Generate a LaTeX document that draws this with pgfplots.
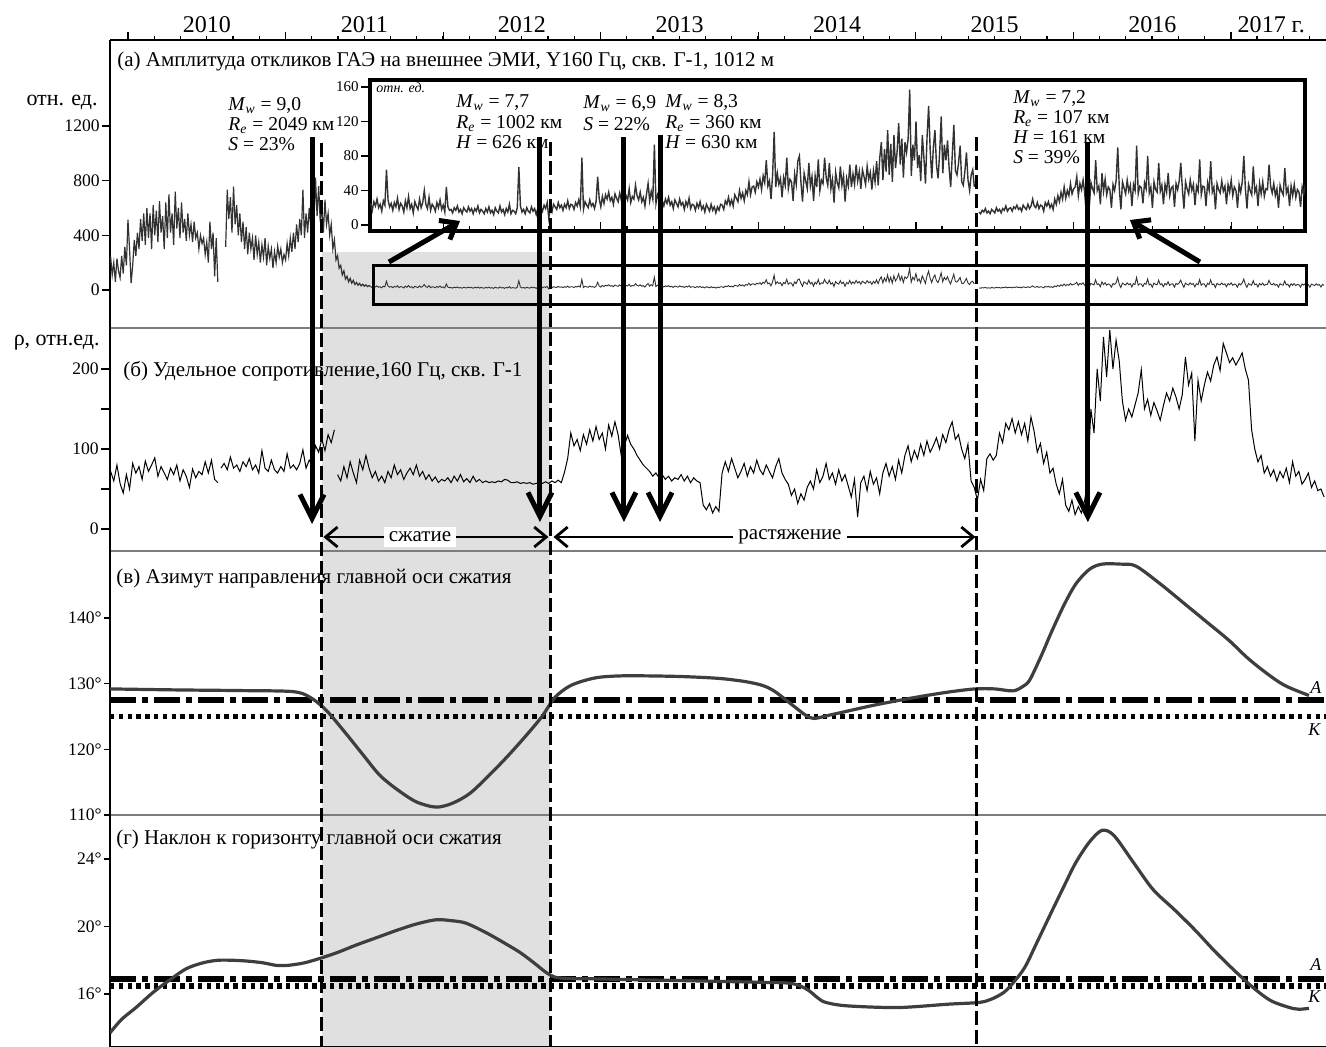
\documentclass[border=0pt]{standalone}
\usepackage{pgfplots}
\pgfplotsset{compat=1.18}
\usepackage{pgfplotstable}
\usepackage{fontspec}
\setmainfont{Liberation Serif}
\usetikzlibrary{arrows.meta}
\definecolor{shadec}{RGB}{224,224,224}
\definecolor{curve}{RGB}{62,62,62}
\definecolor{sepc}{RGB}{125,125,125}
\definecolor{datc}{RGB}{50,50,50}

% (a) amplitude, early part (rel. units)
\pgfplotstableread[row sep=\\]{
x y\\
2009.89 242\\ 2009.90 110\\ 2009.91 200\\ 2009.92 60\\ 2009.93 230\\ 2009.94 140\\ 2009.95 90\\ 2009.96 250\\ 2009.97 120\\ 2009.98 316\\
2009.99 180\\ 2010.00 514\\ 2010.01 300\\ 2010.02 50\\ 2010.03 180\\ 2010.04 367\\ 2010.05 250\\ 2010.06 420\\ 2010.07 300\\ 2010.08 520\\
2010.09 360\\ 2010.10 560\\ 2010.11 330\\ 2010.12 600\\ 2010.13 380\\ 2010.14 560\\ 2010.15 300\\ 2010.16 620\\ 2010.17 400\\ 2010.18 580\\
2010.19 350\\ 2010.20 650\\ 2010.21 420\\ 2010.22 540\\ 2010.23 300\\ 2010.24 640\\ 2010.25 380\\ 2010.26 700\\ 2010.27 420\\ 2010.28 560\\
2010.29 330\\ 2010.30 720\\ 2010.31 450\\ 2010.32 600\\ 2010.33 380\\ 2010.34 640\\ 2010.35 420\\ 2010.36 520\\ 2010.37 360\\ 2010.38 560\\
2010.39 400\\ 2010.40 480\\ 2010.41 350\\ 2010.42 500\\ 2010.43 380\\ 2010.44 420\\ 2010.45 300\\ 2010.46 400\\ 2010.47 340\\ 2010.48 380\\
2010.49 260\\ 2010.50 350\\ 2010.51 200\\ 2010.52 500\\ 2010.53 300\\ 2010.54 420\\ 2010.55 100\\ 2010.56 380\\ 2010.57 60\\ 2010.58 nan\\
2010.62 316\\ 2010.63 734\\ 2010.64 520\\ 2010.65 680\\ 2010.66 420\\ 2010.67 756\\ 2010.68 480\\ 2010.69 620\\ 2010.70 400\\ 2010.71 560\\
2010.72 350\\ 2010.73 500\\ 2010.74 300\\ 2010.75 460\\ 2010.76 260\\ 2010.77 420\\ 2010.78 300\\ 2010.79 380\\ 2010.80 220\\ 2010.81 400\\
2010.82 260\\ 2010.83 350\\ 2010.84 200\\ 2010.85 330\\ 2010.86 240\\ 2010.87 380\\ 2010.88 180\\ 2010.89 320\\ 2010.90 230\\ 2010.91 300\\
2010.92 160\\ 2010.93 280\\ 2010.94 200\\ 2010.95 320\\ 2010.96 240\\ 2010.97 300\\ 2010.98 200\\ 2010.99 260\\ 2011.00 220\\ 2011.01 340\\
2011.02 250\\ 2011.03 380\\ 2011.04 280\\ 2011.05 420\\ 2011.06 300\\ 2011.07 480\\ 2011.08 350\\ 2011.09 520\\ 2011.10 400\\ 2011.11 734\\
2011.12 380\\ 2011.13 560\\ 2011.14 420\\ 2011.15 600\\ 2011.16 460\\ 2011.17 700\\ 2011.18 500\\ 2011.19 822\\ 2011.20 540\\ 2011.21 760\\
2011.22 500\\ 2011.23 600\\ 2011.24 420\\ 2011.25 660\\ 2011.26 480\\ 2011.27 560\\ 2011.28 400\\ 2011.29 480\\ 2011.30 300\\ 2011.31 367\\
2011.32 220\\ 2011.33 250\\ 2011.34 160\\ 2011.35 180\\ 2011.36 110\\ 2011.37 140\\ 2011.38 80\\ 2011.39 100\\ 2011.40 60\\ 2011.41 85\\
2011.42 50\\ 2011.43 70\\ 2011.44 40\\ 2011.45 55\\ 2011.46 35\\ 2011.47 48\\ 2011.48 30\\ 2011.49 42\\ 2011.50 28\\ 2011.51 38\\
2011.52 25\\ 2011.53 32\\ 2011.54 25\\
}\ampA

% (a) amplitude, later part (shown in the inset)
\pgfplotstableread[row sep=\\]{
x y\\
2011.54 25\\ 2011.55 17\\ 2011.56 27\\ 2011.57 22\\ 2011.58 30\\ 2011.59 20\\ 2011.60 24\\ 2011.61 16\\ 2011.62 28\\ 2011.63 23\\
2011.64 64\\ 2011.65 29\\ 2011.66 21\\ 2011.67 25\\ 2011.68 17\\ 2011.69 26\\ 2011.70 21\\ 2011.71 31\\ 2011.72 18\\ 2011.73 25\\
2011.74 22\\ 2011.75 15\\ 2011.76 28\\ 2011.77 20\\ 2011.78 33\\ 2011.79 19\\ 2011.80 24\\ 2011.81 14\\ 2011.82 27\\ 2011.83 22\\
2011.84 18\\ 2011.85 30\\ 2011.86 20\\ 2011.87 26\\ 2011.88 40\\ 2011.89 24\\ 2011.90 19\\ 2011.91 32\\ 2011.92 17\\ 2011.93 24\\
2011.94 21\\ 2011.95 16\\ 2011.96 26\\ 2011.97 20\\ 2011.98 29\\ 2011.99 18\\ 2012.00 23\\ 2012.01 15\\ 2012.02 44\\ 2012.03 21\\
2012.04 17\\ 2012.05 18\\ 2012.06 14\\ 2012.07 20\\ 2012.08 17\\ 2012.09 22\\ 2012.10 15\\ 2012.11 18\\ 2012.12 13\\ 2012.13 20\\
2012.14 17\\ 2012.15 15\\ 2012.16 21\\ 2012.17 16\\ 2012.18 19\\ 2012.19 13\\ 2012.20 19\\ 2012.21 16\\ 2012.22 22\\ 2012.23 14\\
2012.24 18\\ 2012.25 16\\ 2012.26 13\\ 2012.27 19\\ 2012.28 15\\ 2012.29 21\\ 2012.30 14\\ 2012.31 17\\ 2012.32 12\\ 2012.33 20\\
2012.34 16\\ 2012.35 14\\ 2012.36 22\\ 2012.37 15\\ 2012.38 18\\ 2012.39 12\\ 2012.40 19\\ 2012.41 15\\ 2012.42 24\\ 2012.43 13\\
2012.44 17\\ 2012.45 16\\ 2012.46 13\\ 2012.47 20\\ 2012.48 67\\ 2012.49 22\\ 2012.50 15\\ 2012.51 18\\ 2012.52 13\\ 2012.53 20\\
2012.54 16\\ 2012.55 14\\ 2012.56 21\\ 2012.57 16\\ 2012.58 19\\ 2012.59 12\\ 2012.60 19\\ 2012.61 16\\ 2012.62 21\\ 2012.63 16\\
2012.64 23\\ 2012.65 19\\ 2012.66 26\\ 2012.67 8\\ 2012.68 21\\ 2012.69 15\\ 2012.70 24\\ 2012.71 21\\ 2012.72 18\\ 2012.73 26\\
2012.74 20\\ 2012.75 23\\ 2012.76 17\\ 2012.77 24\\ 2012.78 20\\ 2012.79 28\\ 2012.80 19\\ 2012.81 24\\ 2012.82 23\\ 2012.83 18\\
2012.84 26\\ 2012.85 22\\ 2012.86 29\\ 2012.87 21\\ 2012.88 78\\ 2012.89 18\\ 2012.90 27\\ 2012.91 23\\ 2012.92 20\\ 2012.93 29\\
2012.94 22\\ 2012.95 25\\ 2012.96 19\\ 2012.97 27\\ 2012.98 56\\ 2012.99 30\\ 2013.00 21\\ 2013.01 33\\ 2013.02 25\\ 2013.03 35\\
2013.04 30\\ 2013.05 38\\ 2013.06 28\\ 2013.07 32\\ 2013.08 24\\ 2013.09 36\\ 2013.10 31\\ 2013.11 27\\ 2013.12 37\\ 2013.13 29\\
2013.14 33\\ 2013.15 25\\ 2013.16 34\\ 2013.17 29\\ 2013.18 42\\ 2013.19 26\\ 2013.20 33\\ 2013.21 30\\ 2013.22 46\\ 2013.23 34\\
2013.24 29\\ 2013.25 38\\ 2013.26 27\\ 2013.27 32\\ 2013.28 22\\ 2013.29 36\\ 2013.30 48\\ 2013.31 28\\ 2013.32 39\\ 2013.33 30\\
2013.34 93\\ 2013.35 25\\ 2013.36 35\\ 2013.37 29\\ 2013.38 44\\ 2013.39 28\\ 2013.40 22\\ 2013.41 30\\ 2013.42 25\\ 2013.43 32\\
2013.44 23\\ 2013.45 27\\ 2013.46 19\\ 2013.47 29\\ 2013.48 25\\ 2013.49 21\\ 2013.50 30\\ 2013.51 23\\ 2013.52 26\\ 2013.53 18\\
2013.54 27\\ 2013.55 22\\ 2013.56 31\\ 2013.57 19\\ 2013.58 24\\ 2013.59 23\\ 2013.60 17\\ 2013.61 25\\ 2013.62 20\\ 2013.63 27\\
2013.64 18\\ 2013.65 22\\ 2013.66 15\\ 2013.67 24\\ 2013.68 20\\ 2013.69 16\\ 2013.70 24\\ 2013.71 17\\ 2013.72 21\\ 2013.73 14\\
2013.74 21\\ 2013.75 17\\ 2013.76 24\\ 2013.77 23\\ 2013.78 18\\ 2013.79 28\\ 2013.80 24\\ 2013.81 32\\ 2013.82 23\\ 2013.83 29\\
2013.84 22\\ 2013.85 35\\ 2013.86 31\\ 2013.87 27\\ 2013.88 40\\ 2013.89 31\\ 2013.90 37\\ 2013.91 28\\ 2013.92 40\\ 2013.93 35\\
2013.94 50\\ 2013.95 35\\ 2013.96 44\\ 2013.97 45\\ 2013.98 38\\ 2013.99 50\\ 2014.00 44\\ 2014.01 53\\ 2014.02 41\\ 2014.03 57\\
2014.04 49\\ 2014.05 75\\ 2014.06 45\\ 2014.07 51\\ 2014.08 30\\ 2014.09 58\\ 2014.10 108\\ 2014.11 44\\ 2014.12 60\\ 2014.13 47\\
2014.14 54\\ 2014.15 32\\ 2014.16 55\\ 2014.17 46\\ 2014.18 78\\ 2014.19 42\\ 2014.20 53\\ 2014.21 50\\ 2014.22 28\\ 2014.23 59\\
2014.24 47\\ 2014.25 74\\ 2014.26 80\\ 2014.27 49\\ 2014.28 27\\ 2014.29 60\\ 2014.30 51\\ 2014.31 42\\ 2014.32 72\\ 2014.33 45\\
2014.34 56\\ 2014.35 28\\ 2014.36 57\\ 2014.37 44\\ 2014.38 76\\ 2014.39 40\\ 2014.40 52\\ 2014.41 48\\ 2014.42 78\\ 2014.43 55\\
2014.44 46\\ 2014.45 72\\ 2014.46 42\\ 2014.47 53\\ 2014.48 26\\ 2014.49 61\\ 2014.50 49\\ 2014.51 43\\ 2014.52 68\\ 2014.53 46\\
2014.54 57\\ 2014.55 27\\ 2014.56 54\\ 2014.57 45\\ 2014.58 70\\ 2014.59 44\\ 2014.60 59\\ 2014.61 47\\ 2014.62 70\\ 2014.63 51\\
2014.64 62\\ 2014.65 42\\ 2014.66 64\\ 2014.67 56\\ 2014.68 47\\ 2014.69 68\\ 2014.70 53\\ 2014.71 61\\ 2014.72 41\\ 2014.73 63\\
2014.74 50\\ 2014.75 74\\ 2014.76 46\\ 2014.77 78\\ 2014.78 96\\ 2014.79 52\\ 2014.80 88\\ 2014.81 62\\ 2014.82 110\\ 2014.83 58\\
2014.84 94\\ 2014.85 50\\ 2014.86 104\\ 2014.87 66\\ 2014.88 85\\ 2014.89 118\\ 2014.90 70\\ 2014.91 100\\ 2014.92 55\\ 2014.93 96\\
2014.94 84\\ 2014.95 100\\ 2014.96 157\\ 2014.97 57\\ 2014.98 93\\ 2014.99 75\\ 2015.00 120\\ 2015.01 66\\ 2015.02 81\\ 2015.03 51\\
2015.04 104\\ 2015.05 78\\ 2015.06 48\\ 2015.07 102\\ 2015.08 138\\ 2015.09 87\\ 2015.10 54\\ 2015.11 90\\ 2015.12 110\\ 2015.13 69\\
2015.14 54\\ 2015.15 84\\ 2015.16 126\\ 2015.17 60\\ 2015.18 93\\ 2015.19 75\\ 2015.20 98\\ 2015.21 66\\ 2015.22 44\\ 2015.23 81\\
2015.24 116\\ 2015.25 63\\ 2015.26 58\\ 2015.27 72\\ 2015.28 92\\ 2015.29 50\\ 2015.30 46\\ 2015.31 62\\ 2015.32 84\\ 2015.33 52\\
2015.34 40\\ 2015.35 58\\ 2015.36 64\\ 2015.37 44\\ 2015.38 nan\\ 2015.40 15\\ 2015.41 13\\ 2015.42 17\\ 2015.43 15\\ 2015.44 19\\
2015.45 14\\ 2015.46 16\\ 2015.47 13\\ 2015.48 18\\ 2015.49 16\\ 2015.50 14\\ 2015.51 20\\ 2015.52 16\\ 2015.53 18\\ 2015.54 14\\
2015.55 19\\ 2015.56 17\\ 2015.57 22\\ 2015.58 16\\ 2015.59 19\\ 2015.60 20\\ 2015.61 16\\ 2015.62 21\\ 2015.63 19\\ 2015.64 23\\
2015.65 18\\ 2015.66 20\\ 2015.67 16\\ 2015.68 23\\ 2015.69 20\\ 2015.70 18\\ 2015.71 24\\ 2015.72 19\\ 2015.73 22\\ 2015.74 30\\
2015.75 22\\ 2015.76 20\\ 2015.77 26\\ 2015.78 19\\ 2015.79 23\\ 2015.80 22\\ 2015.81 16\\ 2015.82 26\\ 2015.83 22\\ 2015.84 27\\
2015.85 20\\ 2015.86 24\\ 2015.87 18\\ 2015.88 30\\ 2015.89 24\\ 2015.90 34\\ 2015.91 27\\ 2015.92 38\\ 2015.93 30\\ 2015.94 44\\
2015.95 31\\ 2015.96 40\\ 2015.97 34\\ 2015.98 48\\ 2015.99 36\\ 2016.00 42\\ 2016.01 44\\ 2016.02 56\\ 2016.03 34\\ 2016.04 48\\
2016.05 41\\ 2016.06 52\\ 2016.07 38\\ 2016.08 14\\ 2016.09 43\\ 2016.10 22\\ 2016.11 49\\ 2016.12 42\\ 2016.13 37\\ 2016.14 75\\
2016.15 40\\ 2016.16 45\\ 2016.17 24\\ 2016.18 60\\ 2016.19 39\\ 2016.20 53\\ 2016.21 35\\ 2016.22 44\\ 2016.23 41\\ 2016.24 20\\
2016.25 47\\ 2016.26 40\\ 2016.27 52\\ 2016.28 90\\ 2016.29 42\\ 2016.30 18\\ 2016.31 50\\ 2016.32 43\\ 2016.33 36\\ 2016.34 52\\
2016.35 39\\ 2016.36 46\\ 2016.37 22\\ 2016.38 47\\ 2016.39 40\\ 2016.40 92\\ 2016.41 36\\ 2016.42 45\\ 2016.43 43\\ 2016.44 25\\
2016.45 49\\ 2016.46 42\\ 2016.47 80\\ 2016.48 37\\ 2016.49 44\\ 2016.50 20\\ 2016.51 50\\ 2016.52 41\\ 2016.53 38\\ 2016.54 72\\
2016.55 39\\ 2016.56 46\\ 2016.57 24\\ 2016.58 47\\ 2016.59 38\\ 2016.60 60\\ 2016.61 34\\ 2016.62 43\\ 2016.63 45\\ 2016.64 21\\
2016.65 48\\ 2016.66 41\\ 2016.67 51\\ 2016.68 72\\ 2016.69 42\\ 2016.70 19\\ 2016.71 50\\ 2016.72 42\\ 2016.73 36\\ 2016.74 52\\
2016.75 40\\ 2016.76 47\\ 2016.77 23\\ 2016.78 45\\ 2016.79 39\\ 2016.80 76\\ 2016.81 35\\ 2016.82 45\\ 2016.83 44\\ 2016.84 22\\
2016.85 49\\ 2016.86 40\\ 2016.87 74\\ 2016.88 38\\ 2016.89 44\\ 2016.90 18\\ 2016.91 48\\ 2016.92 41\\ 2016.93 37\\ 2016.94 51\\
2016.95 39\\ 2016.96 45\\ 2016.97 24\\ 2016.98 47\\ 2016.99 38\\ 2017.00 52\\ 2017.01 34\\ 2017.02 44\\ 2017.03 40\\ 2017.04 20\\
2017.05 47\\ 2017.06 38\\ 2017.07 50\\ 2017.08 80\\ 2017.09 42\\ 2017.10 19\\ 2017.11 47\\ 2017.12 40\\ 2017.13 35\\ 2017.14 68\\
2017.15 38\\ 2017.16 44\\ 2017.17 22\\ 2017.18 48\\ 2017.19 36\\ 2017.20 50\\ 2017.21 33\\ 2017.22 42\\ 2017.23 41\\ 2017.24 70\\
2017.25 45\\ 2017.26 37\\ 2017.27 48\\ 2017.28 34\\ 2017.29 42\\ 2017.30 20\\ 2017.31 46\\ 2017.32 39\\ 2017.33 35\\ 2017.34 66\\
2017.35 37\\ 2017.36 43\\ 2017.37 22\\ 2017.38 45\\ 2017.39 34\\ 2017.40 47\\ 2017.41 32\\ 2017.42 41\\ 2017.43 38\\ 2017.44 21\\
2017.45 44\\ 2017.46 36\\ 2017.47 46\\ 2017.48 33\\ 2017.49 40\\ 2017.50 20\\ 2017.51 43\\ 2017.52 37\\ 2017.53 33\\ 2017.54 45\\
2017.55 35\\ 2017.56 40\\ 2017.57 22\\ 2017.58 41\\ 2017.59 34\\
}\ampB

% (b) resistivity
\pgfplotstableread[row sep=\\]{
x y\\
2009.89 72\\ 2009.91 60\\ 2009.93 80\\ 2009.95 57\\ 2009.97 45\\ 2009.99 68\\ 2010.01 50\\ 2010.03 82\\ 2010.05 70\\ 2010.07 78\\
2010.09 62\\ 2010.11 85\\ 2010.13 72\\ 2010.15 80\\ 2010.17 89\\ 2010.19 66\\ 2010.21 78\\ 2010.23 70\\ 2010.25 62\\ 2010.27 76\\
2010.29 68\\ 2010.31 80\\ 2010.33 60\\ 2010.35 74\\ 2010.37 66\\ 2010.39 52\\ 2010.41 75\\ 2010.43 64\\ 2010.45 72\\ 2010.47 68\\
2010.49 84\\ 2010.51 70\\ 2010.53 86\\ 2010.55 62\\ 2010.57 58\\ 2010.58 nan\\ 2010.59 76\\ 2010.61 82\\ 2010.63 74\\ 2010.65 90\\
2010.67 76\\ 2010.69 80\\ 2010.71 72\\ 2010.73 84\\ 2010.75 78\\ 2010.77 88\\ 2010.79 74\\ 2010.81 80\\ 2010.83 70\\ 2010.85 98\\
2010.87 76\\ 2010.89 72\\ 2010.91 86\\ 2010.93 74\\ 2010.95 70\\ 2010.97 78\\ 2010.99 72\\ 2011.01 94\\ 2011.03 76\\ 2011.05 80\\
2011.07 74\\ 2011.09 82\\ 2011.11 99\\ 2011.13 76\\ 2011.15 86\\ 2011.17 80\\ 2011.19 104\\ 2011.21 96\\ 2011.23 112\\ 2011.25 98\\
2011.27 118\\ 2011.29 108\\ 2011.31 124\\ 2011.32 nan\\ 2011.33 68\\ 2011.35 60\\ 2011.37 78\\ 2011.39 64\\ 2011.41 84\\ 2011.43 70\\
2011.45 58\\ 2011.47 86\\ 2011.49 74\\ 2011.51 92\\ 2011.53 76\\ 2011.55 64\\ 2011.57 72\\ 2011.59 60\\ 2011.61 66\\ 2011.63 58\\
2011.65 72\\ 2011.67 64\\ 2011.69 80\\ 2011.71 68\\ 2011.73 74\\ 2011.75 62\\ 2011.77 70\\ 2011.79 76\\ 2011.81 68\\ 2011.83 80\\
2011.85 66\\ 2011.87 72\\ 2011.89 62\\ 2011.91 68\\ 2011.93 60\\ 2011.95 65\\ 2011.97 58\\ 2011.99 62\\ 2012.01 60\\ 2012.03 64\\
2012.05 58\\ 2012.07 66\\ 2012.09 60\\ 2012.11 68\\ 2012.13 59\\ 2012.15 63\\ 2012.17 58\\ 2012.19 66\\ 2012.21 59\\ 2012.23 62\\
2012.25 58\\ 2012.27 60\\ 2012.29 58\\ 2012.31 59\\ 2012.33 58\\ 2012.35 60\\ 2012.37 59\\ 2012.39 62\\ 2012.41 61\\ 2012.43 58\\
2012.45 58\\ 2012.47 59\\ 2012.49 57\\ 2012.51 58\\ 2012.53 57\\ 2012.55 58\\ 2012.57 56\\ 2012.59 57\\ 2012.61 58\\ 2012.63 57\\
2012.65 59\\ 2012.67 57\\ 2012.69 60\\ 2012.71 58\\ 2012.73 61\\ 2012.75 58\\ 2012.77 71\\ 2012.79 88\\ 2012.81 120\\ 2012.83 104\\
2012.85 112\\ 2012.87 98\\ 2012.89 118\\ 2012.91 106\\ 2012.93 124\\ 2012.95 110\\ 2012.97 128\\ 2012.99 112\\ 2013.01 120\\ 2013.03 100\\
2013.05 130\\ 2013.07 116\\ 2013.09 134\\ 2013.11 118\\ 2013.13 92\\ 2013.15 104\\ 2013.17 117\\ 2013.19 106\\ 2013.21 100\\ 2013.23 92\\
2013.25 86\\ 2013.27 80\\ 2013.29 76\\ 2013.31 72\\ 2013.33 66\\ 2013.35 70\\ 2013.37 64\\ 2013.39 68\\ 2013.41 62\\ 2013.43 66\\
2013.45 60\\ 2013.47 64\\ 2013.49 62\\ 2013.51 68\\ 2013.53 60\\ 2013.55 66\\ 2013.57 58\\ 2013.59 64\\ 2013.61 60\\ 2013.63 58\\
2013.65 30\\ 2013.67 24\\ 2013.69 32\\ 2013.71 20\\ 2013.73 28\\ 2013.75 22\\ 2013.77 70\\ 2013.79 84\\ 2013.81 72\\ 2013.83 88\\
2013.85 76\\ 2013.87 64\\ 2013.89 72\\ 2013.91 82\\ 2013.93 66\\ 2013.95 78\\ 2013.97 70\\ 2013.99 86\\ 2014.01 74\\ 2014.03 68\\
2014.05 80\\ 2014.07 72\\ 2014.09 64\\ 2014.11 78\\ 2014.13 88\\ 2014.15 70\\ 2014.17 62\\ 2014.19 56\\ 2014.21 42\\ 2014.23 50\\
2014.25 32\\ 2014.27 44\\ 2014.29 36\\ 2014.31 52\\ 2014.33 60\\ 2014.35 50\\ 2014.37 74\\ 2014.39 58\\ 2014.41 66\\ 2014.43 82\\
2014.45 62\\ 2014.47 70\\ 2014.49 56\\ 2014.51 74\\ 2014.53 60\\ 2014.55 68\\ 2014.57 54\\ 2014.59 40\\ 2014.61 62\\ 2014.63 15\\
2014.65 58\\ 2014.67 66\\ 2014.69 48\\ 2014.71 72\\ 2014.73 56\\ 2014.75 64\\ 2014.77 44\\ 2014.79 70\\ 2014.81 82\\ 2014.83 66\\
2014.85 78\\ 2014.87 62\\ 2014.89 86\\ 2014.91 70\\ 2014.93 92\\ 2014.95 104\\ 2014.97 84\\ 2014.99 98\\ 2015.01 88\\ 2015.03 106\\
2015.05 92\\ 2015.07 110\\ 2015.09 96\\ 2015.11 104\\ 2015.13 114\\ 2015.15 100\\ 2015.17 118\\ 2015.19 108\\ 2015.21 124\\ 2015.23 134\\
2015.25 112\\ 2015.27 118\\ 2015.29 100\\ 2015.31 88\\ 2015.33 106\\ 2015.35 60\\ 2015.37 52\\ 2015.39 36\\ 2015.41 62\\ 2015.43 48\\
2015.45 88\\ 2015.47 94\\ 2015.49 86\\ 2015.51 92\\ 2015.53 120\\ 2015.55 108\\ 2015.57 132\\ 2015.59 124\\ 2015.61 138\\ 2015.63 120\\
2015.65 134\\ 2015.67 118\\ 2015.69 132\\ 2015.71 110\\ 2015.73 140\\ 2015.75 122\\ 2015.77 96\\ 2015.79 107\\ 2015.81 82\\ 2015.83 96\\
2015.85 70\\ 2015.87 76\\ 2015.89 56\\ 2015.91 44\\ 2015.93 62\\ 2015.95 30\\ 2015.97 22\\ 2015.99 36\\ 2016.01 18\\ 2016.03 28\\
2016.05 20\\ 2016.07 35\\ 2016.09 60\\ 2016.11 150\\ 2016.13 120\\ 2016.15 200\\ 2016.17 160\\ 2016.19 240\\ 2016.21 190\\ 2016.23 249\\
2016.25 200\\ 2016.27 236\\ 2016.29 210\\ 2016.31 160\\ 2016.33 136\\ 2016.35 150\\ 2016.37 140\\ 2016.39 155\\ 2016.41 170\\ 2016.43 199\\
2016.45 150\\ 2016.47 162\\ 2016.49 142\\ 2016.51 158\\ 2016.53 148\\ 2016.55 136\\ 2016.57 154\\ 2016.59 170\\ 2016.61 160\\ 2016.63 176\\
2016.65 165\\ 2016.67 150\\ 2016.69 168\\ 2016.71 215\\ 2016.73 180\\ 2016.75 195\\ 2016.77 110\\ 2016.79 186\\ 2016.81 160\\ 2016.83 180\\
2016.85 196\\ 2016.87 185\\ 2016.89 205\\ 2016.91 215\\ 2016.93 198\\ 2016.95 232\\ 2016.97 220\\ 2016.99 208\\ 2017.01 214\\ 2017.03 205\\
2017.05 212\\ 2017.07 220\\ 2017.09 200\\ 2017.11 186\\ 2017.13 124\\ 2017.15 100\\ 2017.17 84\\ 2017.19 92\\ 2017.21 70\\ 2017.23 78\\
2017.25 66\\ 2017.27 74\\ 2017.29 60\\ 2017.31 72\\ 2017.33 64\\ 2017.35 76\\ 2017.37 58\\ 2017.39 84\\ 2017.41 66\\ 2017.43 72\\
2017.45 56\\ 2017.47 62\\ 2017.49 70\\ 2017.51 52\\ 2017.53 60\\ 2017.55 48\\ 2017.57 50\\ 2017.59 40\\
}\resist

% (v) azimuth of the main compression axis, degrees
\pgfplotstableread[row sep=\\]{
x y\\
2009.886 129.2\\ 2010.3 129.05\\ 2010.7 128.95\\ 2011.041 128.8\\ 2011.15 128.0\\ 2011.256 126.0\\ 2011.38 122.5\\ 2011.497 119.0\\
2011.60 116.0\\ 2011.713 113.8\\ 2011.83 112.0\\ 2011.954 111.2\\ 2012.06 111.8\\ 2012.170 113.3\\ 2012.29 116.0\\ 2012.411 119.0\\
2012.53 122.2\\ 2012.627 125.0\\ 2012.709 127.9\\ 2012.80 129.6\\ 2012.900 130.5\\ 2013.00 131.0\\ 2013.166 131.2\\ 2013.490 131.1\\
2013.75 130.8\\ 2013.921 130.3\\ 2014.03 129.7\\ 2014.105 128.8\\ 2014.213 126.8\\ 2014.30 125.2\\ 2014.353 124.7\\ 2014.45 125.2\\
2014.562 125.8\\ 2014.75 126.8\\ 2014.994 127.9\\ 2015.20 128.7\\ 2015.374 129.2\\ 2015.50 129.2\\ 2015.616 128.9\\ 2015.68 129.6\\
2015.723 130.6\\ 2015.80 134.5\\ 2015.857 137.7\\ 2015.94 142.0\\ 2016.015 145.2\\ 2016.10 147.4\\ 2016.180 148.2\\ 2016.30 148.2\\
2016.396 147.9\\ 2016.55 145.2\\ 2016.713 142.0\\ 2016.85 139.3\\ 2016.986 136.6\\ 2017.10 134.0\\ 2017.202 132.0\\ 2017.30 130.3\\
2017.360 129.5\\ 2017.43 128.8\\ 2017.494 128.2\\
}\azim

% (g) inclination of the main compression axis, degrees
\pgfplotstableread[row sep=\\]{
x y\\
2009.886 13.7\\ 2009.96 14.5\\ 2010.051 15.2\\ 2010.16 16.1\\ 2010.260 16.8\\ 2010.37 17.5\\ 2010.476 17.85\\ 2010.57 18.0\\
2010.666 18.0\\ 2010.76 17.95\\ 2010.857 17.85\\ 2010.94 17.7\\ 2011.015 17.7\\ 2011.12 17.85\\ 2011.231 18.15\\ 2011.34 18.5\\
2011.447 18.9\\ 2011.58 19.35\\ 2011.713 19.8\\ 2011.83 20.15\\ 2011.954 20.4\\ 2012.05 20.35\\ 2012.145 20.2\\ 2012.28 19.6\\
2012.411 18.9\\ 2012.49 18.45\\ 2012.576 17.85\\ 2012.65 17.3\\ 2012.709 17.0\\ 2012.80 16.92\\ 2012.951 16.9\\ 2013.490 16.8\\
2014.00 16.7\\ 2014.188 16.65\\ 2014.26 16.5\\ 2014.321 16.2\\ 2014.38 15.75\\ 2014.429 15.5\\ 2014.562 15.3\\ 2014.886 15.2\\
2015.209 15.4\\ 2015.400 15.5\\ 2015.48 15.7\\ 2015.558 16.1\\ 2015.62 16.7\\ 2015.692 17.6\\ 2015.77 19.1\\ 2015.857 20.8\\
2015.94 22.4\\ 2016.015 23.8\\ 2016.10 25.0\\ 2016.180 25.7\\ 2016.256 25.4\\ 2016.38 23.8\\ 2016.504 22.2\\ 2016.64 21.0\\
2016.770 19.8\\ 2016.90 18.5\\ 2017.037 17.25\\ 2017.15 16.3\\ 2017.253 15.6\\ 2017.37 15.2\\ 2017.43 15.1\\ 2017.494 15.15\\
}\incl

\pgfplotsset{
  panel/.style={scale only axis, width=608pt, xmin=2009.886, xmax=2017.602, anchor=north west,
    axis y line*=left, axis line style={black, line width=1pt},
    tick align=outside, major tick length=4.5pt, tick style={black, line width=0.6pt},
    yticklabel style={font=\fontsize{8.8}{10}\selectfont, inner sep=1pt},
    /pgf/number format/assume math mode=true, /pgf/number format/1000 sep={}, unbounded coords=jump},
  ovl/.style={scale only axis, width=608pt, height=503.5pt, at={(55pt,-20pt)}, anchor=north west,
    xmin=2009.886, xmax=2017.602, ymin=40, ymax=1047, y dir=reverse, hide axis, clip=false}
}
\tikzset{
  evarrow/.style={line width=2.5pt, -{Straight Barb[length=12pt,width=12pt]}},
  dline/.style={line width=1.5pt, dash pattern=on 7pt off 2.5pt},
  harrow/.style={line width=1.4pt, {Straight Barb[length=6pt,width=10pt]}-{Straight Barb[length=6pt,width=10pt]}},
  iarrow/.style={line width=2.5pt, -{Straight Barb[length=7pt,width=11pt]}},
  ttl/.style={anchor=base west, inner sep=0pt, font=\fontsize{10.5}{12}\selectfont},
  ev/.style={anchor=base west, inner sep=0pt, font=\fontsize{9.8}{12}\selectfont},
  ak/.style={anchor=base west, inner sep=0pt, font=\fontsize{9}{10}\selectfont\itshape}
}
\newcommand{\Mw}{\textit{M}\textsubscript{\textit{w}}}
\newcommand{\Rep}{\textit{R}\textsubscript{\textit{e}}}

\begin{document}
\begin{tikzpicture}
\path[use as bounding box] (0,0) rectangle (663pt,-523.5pt);

% background: shading and panel separators
\begin{axis}[ovl]
\fill[shadec] (axis cs:2011.231,252) rectangle (axis cs:2012.678,1047);
\draw[sepc, line width=0.9pt] (axis cs:2009.886,328) -- (axis cs:2017.602,328);
\draw[sepc, line width=0.9pt] (axis cs:2009.886,551) -- (axis cs:2017.602,551);
\draw[sepc, line width=0.9pt] (axis cs:2009.886,815) -- (axis cs:2017.602,815);
\end{axis}

% (a) amplitude
\begin{axis}[panel, at={(55pt,-20pt)}, height=144pt, ymin=-278, ymax=1829,
  axis x line*=top, x axis line style={line width=1.3pt},
  xtick={2010,...,2017}, minor xtick={2010,2010.16667,...,2017.6}, xticklabels={},
  major tick length=4pt, minor tick length=2pt,
  extra x ticks={2010.5,2011.5,2012.5,2013.5,2014.5,2015.5,2016.5,2017.255},
  extra x tick labels={2010,2011,2012,2013,2014,2015,2016,2017 г.},
  extra x tick style={major tick length=0pt, xticklabel style={font=\fontsize{12}{14}\selectfont}},
  ytick={0,400,800,1200}]
\addplot[datc, line width=0.6pt] table {\ampA};
\addplot[datc, line width=0.45pt] table {\ampB};
\end{axis}

% inset
\begin{axis}[at={(185pt,-40pt)}, anchor=north west, scale only axis, width=467.5pt, height=75.5pt,
  xmin=2011.5355, xmax=2017.4683, ymin=-7, ymax=168.1,
  axis line style={line width=1.6pt}, axis background/.style={fill=white},
  xtick={2012,...,2017}, minor xtick={2011.66667,2011.83333,...,2017.4}, xtick pos=left, xticklabels={},
  xtick align=inside, ytick align=outside, major tick length=4.5pt, minor tick length=2.5pt,
  ytick={0,40,...,160}, ytick pos=left,
  yticklabel style={font=\fontsize{7.5}{9}\selectfont, inner sep=1pt},
  tick style={black, line width=0.6pt}, /pgf/number format/assume math mode=true, unbounded coords=jump]
\addplot[datc, line width=0.7pt] table {\ampB};
\end{axis}

% (b) resistivity
\begin{axis}[panel, at={(55pt,-164pt)}, height=111.5pt, ymin=-27.5, ymax=251.25,
  hide x axis, ytick={0,50,100,150,200}, yticklabels={0,,100,,200}]
\addplot[black, line width=0.5pt] table {\resist};
\end{axis}

% (v) azimuth
\begin{axis}[panel, at={(55pt,-275.5pt)}, height=132pt, ymin=110, ymax=150.2,
  hide x axis, ytick={110,120,130,140}, yticklabels={110°,120°,130°,140°}, major tick length=3pt]
\addplot[black, line width=2.6pt, dash pattern=on 13pt off 3pt on 3pt off 3pt] coordinates {(2009.886,127.5) (2017.602,127.5)};
\addplot[black, line width=2.6pt, dash pattern=on 2.2pt off 2.2pt] coordinates {(2009.886,125.0) (2017.602,125.0)};
\addplot[curve, line width=1.6pt, smooth, tension=0.5] table {\azim};
\end{axis}

% (g) inclination
\begin{axis}[panel, at={(55pt,-407.5pt)}, height=116pt, ymin=12.86, ymax=26.61,
  axis x line*=bottom, xtick=\empty,
  ytick={16,20,24}, yticklabels={16°,20°,24°}, major tick length=3pt]
\addplot[black, line width=2.6pt, dash pattern=on 13pt off 3pt on 3pt off 3pt] coordinates {(2009.886,16.89) (2017.602,16.89)};
\addplot[black, line width=2.6pt, dash pattern=on 2.2pt off 2.2pt] coordinates {(2009.886,16.47) (2017.602,16.47)};
\addplot[curve, line width=1.6pt, smooth, tension=0.5] table {\incl};
\end{axis}

% foreground annotations
\begin{axis}[ovl]
\node[ttl] at (axis cs:2009.930,66) {(а) Амплитуда откликов ГАЭ на внешнее ЭМИ, Y160 Гц, скв. Г-1, 1012 м};
\node[ttl] at (axis cs:2009.968,376) {(б) Удельное сопротивление,160 Гц, скв. Г-1};
\node[ttl] at (axis cs:2009.924,583) {(в) Азимут направления главной оси сжатия};
\node[ttl] at (axis cs:2009.924,844) {(г) Наклон к горизонту главной оси сжатия};
\node[anchor=base east, inner sep=0pt, font=\fontsize{11}{12}\selectfont] at (axis cs:2009.810,105) {отн. ед.};
\node[anchor=base east, inner sep=0pt, font=\fontsize{11}{12}\selectfont] at (axis cs:2009.822,345) {ρ, отн.ед.};
\node[anchor=base west, inner sep=0pt, font=\fontsize{7}{8}\selectfont\itshape] at (axis cs:2011.574,92) {отн. ед.};
% event labels
\node[ev] at (axis cs:2010.635,110) {\Mw{} = 9,0};
\node[ev] at (axis cs:2010.635,130) {\Rep{} = 2049 км};
\node[ev] at (axis cs:2010.635,150) {\textit{S} = 23\%};
\node[ev] at (axis cs:2012.081,107) {\Mw{} = 7,7};
\node[ev] at (axis cs:2012.081,128) {\Rep{} = 1002 км};
\node[ev] at (axis cs:2012.081,148) {\textit{H} = 626 км};
\node[ev] at (axis cs:2012.887,108) {\Mw{} = 6,9};
\node[ev] at (axis cs:2012.887,130) {\textit{S} = 22\%};
\node[ev] at (axis cs:2013.407,107) {\Mw{} = 8,3};
\node[ev] at (axis cs:2013.407,128) {\Rep{} = 360 км};
\node[ev] at (axis cs:2013.407,148) {\textit{H} = 630 км};
\node[ev] at (axis cs:2015.615,103) {\Mw{} = 7,2};
\node[ev] at (axis cs:2015.615,123) {\Rep{} = 107 км};
\node[ev] at (axis cs:2015.615,143) {\textit{H} = 161 км};
\node[ev] at (axis cs:2015.615,163) {\textit{S} = 39\%};
% zoom rectangle and arrows to inset
\draw[line width=1.5pt] (axis cs:2011.561,265) rectangle (axis cs:2017.481,304);
\draw[iarrow] (axis cs:2011.656,262) -- (axis cs:2012.107,221);
\draw[iarrow] (axis cs:2016.802,262) -- (axis cs:2016.358,220);
% dashed boundaries
\draw[dline] (axis cs:2011.231,143) -- (axis cs:2011.231,1047);
\draw[dline] (axis cs:2012.678,142) -- (axis cs:2012.678,1047);
\draw[dline] (axis cs:2015.387,137) -- (axis cs:2015.387,1047);
% earthquake arrows
\draw[evarrow] (axis cs:2011.168,137) -- (axis cs:2011.168,524);
\draw[evarrow] (axis cs:2012.614,137) -- (axis cs:2012.614,522);
\draw[evarrow] (axis cs:2013.147,137) -- (axis cs:2013.147,522);
\draw[evarrow] (axis cs:2013.376,135) -- (axis cs:2013.376,522);
\draw[evarrow] (axis cs:2016.091,142) -- (axis cs:2016.091,522);
% compression / extension
\draw[harrow] (axis cs:2011.240,537) -- (axis cs:2012.668,537);
\node[fill=white, inner sep=2.5pt, font=\fontsize{10.5}{12}\selectfont] at (axis cs:2011.853,537) {сжатие};
\draw[harrow] (axis cs:2012.700,537) -- (axis cs:2015.378,537);
\node[fill=white, inner sep=2.5pt, font=\fontsize{10.5}{12}\selectfont] at (axis cs:2014.201,537) {растяжение};
% A / K labels
\node[ak] at (axis cs:2017.500,693) {A};
\node[ak] at (axis cs:2017.487,735) {K};
\node[ak] at (axis cs:2017.500,970) {A};
\node[ak] at (axis cs:2017.487,1002) {K};
\end{axis}
\end{tikzpicture}
\end{document}
